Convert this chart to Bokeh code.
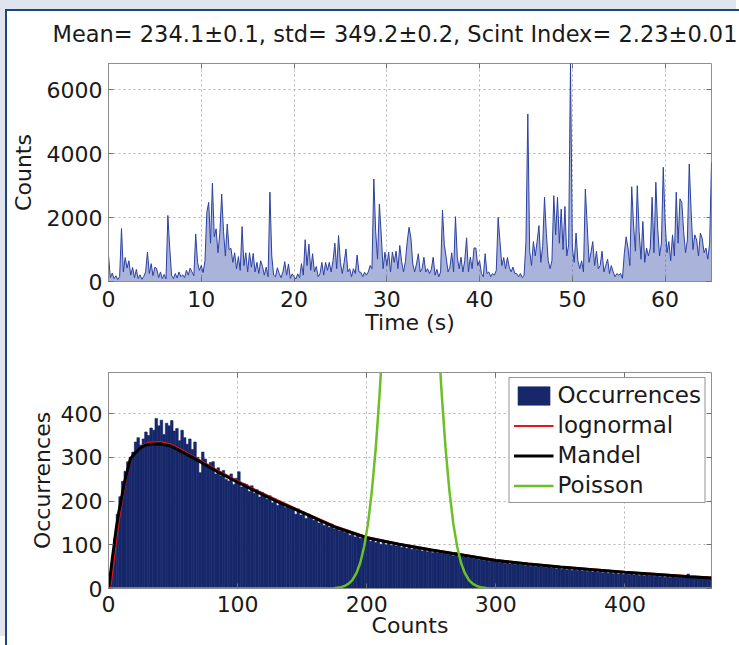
from bokeh.plotting import figure
from bokeh.models import Range1d, FixedTicker, LinearAxis, Legend, LegendItem, ColumnDataSource
from bokeh.layouts import column
from bokeh.embed import file_html
from bokeh.resources import INLINE

# ---------------- data ----------------
title_text = "Mean= 234.1\u00b10.1, std= 349.2\u00b10.2, Scint Index= 2.23\u00b10.01"

sample_step_s = 0.2
counts_series = [
    820, 120, 260, 90, 180, 60, 150, 1660, 300, 750,
    420, 650, 200, 440, 120, 380, 90, 210, 70, 160,
    300, 920, 250, 560, 180, 450, 400, 120, 300, 90,
    220, 80, 2070, 1050, 200, 90, 250, 110, 300, 150,
    210, 120, 350, 200, 420, 300, 180, 1490, 600, 350,
    500, 280, 650, 2170, 2480, 1200, 3080, 1400, 1650, 900,
    1500, 2740, 1560, 800, 1800, 1000, 1040, 600, 900, 400,
    780, 350, 1720, 500, 900, 300, 900, 450, 880, 300,
    600, 250, 650, 470, 200, 450, 150, 2800, 800, 200,
    150, 430, 250, 120, 300, 620, 200, 550, 100, 240,
    150, 80, 240, 120, 560, 200, 1310, 500, 1170, 350,
    870, 300, 470, 150, 250, 600, 200, 600, 350, 600,
    300, 650, 1200, 400, 1440, 600, 250, 600, 1020, 300,
    400, 150, 400, 250, 830, 300, 290, 150, 290, 200,
    300, 500, 400, 3210, 1560, 700, 2430, 1460, 400, 920,
    500, 920, 300, 920, 600, 950, 400, 1130, 620, 300,
    620, 1250, 1700, 1360, 550, 300, 550, 870, 300, 400,
    760, 300, 400, 250, 380, 760, 200, 380, 150, 300,
    2240, 1150, 760, 300, 450, 900, 300, 2030, 760, 400,
    760, 300, 650, 1370, 300, 760, 400, 1050, 1050, 500,
    650, 250, 150, 870, 250, 300, 150, 250, 200, 350,
    2010, 1250, 500, 750, 400, 750, 450, 300, 450, 250,
    250, 150, 250, 120, 200, 1250, 5250, 950, 500, 1250,
    800, 1250, 1750, 600, 1100, 2640, 1500, 650, 400, 650,
    2690, 1460, 2640, 1200, 2270, 1000, 2350, 800, 1150, 6830,
    1050, 600, 1520, 650, 400, 650, 300, 2900, 1770, 600,
    900, 1250, 500, 950, 400, 500, 950, 300, 500, 700,
    250, 500, 300, 150, 250, 200, 250, 100, 870, 1400,
    1050, 500, 2970, 1770, 950, 3000, 1560, 700, 1880, 600,
    1050, 800, 1050, 2640, 900, 3110, 1660, 800, 1200, 3580,
    1880, 900, 1250, 650, 1460, 800, 2800, 1200, 2590, 2480,
    1560, 900, 1300, 3680, 2230, 1000, 1460, 1300, 800, 1520,
    1350, 900, 1050, 700, 1200, 3730,
]
time_s = [round(i * sample_step_s, 1) for i in range(len(counts_series))]

top_x_ticks = [0, 10, 20, 30, 40, 50, 60]
top_y_ticks = [0, 2000, 4000, 6000]

hist_bin_width = 2
hist_centers = list(range(1, 468, 2))
hist_values = [
    12, 60, 115, 170, 210, 245, 268, 290, 300, 312,
    335, 345, 328, 342, 358, 350, 367, 362, 389, 372,
    385, 352, 378, 372, 384, 360, 366, 338, 362, 345,
    330, 342, 318, 335, 300, 265, 312, 296, 280, 288,
    290, 262, 276, 258, 270, 250, 246, 262, 238, 252,
    267, 232, 240, 238, 222, 235, 218, 226, 209, 220,
    215, 204, 212, 196, 205, 190, 199, 194, 185, 190,
    186, 180, 170, 182, 168, 175, 160, 170, 165, 156,
    160, 150, 156, 144, 150, 140, 147, 136, 140, 132,
    135, 128, 132, 122, 126, 118, 124, 115, 119, 112,
    113, 108, 112, 105, 110, 101, 107, 100, 105, 99,
    100, 97, 103, 94, 98, 92, 96, 90, 94, 89,
    92, 86, 90, 84, 88, 82, 87, 81, 85, 80,
    83, 78, 80, 75, 82, 74, 78, 72, 76, 70,
    73, 68, 70, 66, 69, 64, 67, 62, 65, 61,
    63, 59, 62, 58, 60, 56, 59, 55, 57, 54,
    56, 52, 55, 51, 54, 50, 53, 49, 51, 48,
    50, 47, 49, 45, 48, 44, 47, 43, 46, 42,
    44, 41, 43, 40, 42, 39, 41, 38, 40, 37,
    39, 36, 38, 35, 37, 34, 36, 33, 35, 32,
    35, 32, 34, 31, 33, 30, 32, 29, 31, 29,
    30, 28, 29, 27, 28, 26, 28, 25, 27, 25,
    26, 25, 26, 24, 33, 24, 25, 23, 24, 22,
    24, 22, 23, 22,
]

curve_x = [0, 1, 2, 3, 4, 5, 6, 8, 10, 12, 14, 17, 20, 24, 28, 32, 40, 48, 56, 65,
           75, 85, 100, 115, 130, 150, 175, 200, 225, 250, 275, 300, 325, 350, 375,
           400, 425, 450, 467]
mandel_y = [0, 20, 45, 70, 92, 115, 138, 175, 205, 237, 262, 297, 308, 320, 327, 330,
            331, 326, 314, 300, 283, 266, 243, 221, 200, 174, 141, 116, 101, 88, 76,
            64, 56, 49, 43, 37, 32, 27, 24]
lognormal_y = [0, 3, 15, 38, 62, 88, 112, 155, 192, 226, 255, 293, 310, 322, 330, 334,
               335, 330, 318, 303, 286, 269, 246, 224, 203, 176, 143, 118, 102, 89, 77,
               65, 57, 50, 44, 38, 33, 28, 25]

poisson_x = [0, 174, 177, 180, 183, 186, 189, 192, 195, 198, 201, 204, 207, 210, 213,
             216, 219, 222, 225, 228, 231, 234, 237, 240, 243, 246, 249, 252, 255, 258,
             261, 264, 267, 270, 273, 276, 279, 282, 285, 288, 291, 294, 467]
poisson_y = [0, 0, 1.5, 3, 6, 11, 20, 35, 59, 96, 149, 224, 322, 447, 596, 766, 946,
             1125, 1287, 1417, 1501, 1530, 1501, 1417, 1287, 1125, 946, 766, 596, 447,
             322, 224, 149, 96, 59, 35, 20, 11, 6, 3, 1.5, 0, 0]

bottom_ticks = [0, 100, 200, 300, 400]
bottom_y_ticks = [0, 100, 200, 300, 400]

# ---------------- style ----------------
FONT = "DejaVu Sans"
FS = "22px"
TXT = "#1a1a1a"
FRAME = "#8f8f8f"
GRID = "#b4b4b4"


def style(p, xt, yt, top_gap=None):
    p.outline_line_color = FRAME
    p.outline_line_width = 1
    p.background_fill_color = "white"
    p.border_fill_color = "white"
    for ax in (p.xaxis[0], p.yaxis[0]):
        ax.axis_line_color = FRAME
        ax.major_tick_in = 5
        ax.major_tick_out = 0
        ax.minor_tick_line_color = None
        ax.major_tick_line_color = "#707070"
        ax.major_label_text_font = FONT
        ax.major_label_text_font_size = FS
        ax.major_label_text_color = TXT
        ax.axis_label_text_font = FONT
        ax.axis_label_text_font_size = FS
        ax.axis_label_text_font_style = "normal"
        ax.axis_label_text_color = TXT
    p.xaxis[0].ticker = FixedTicker(ticks=xt)
    p.yaxis[0].ticker = FixedTicker(ticks=yt)
    p.xgrid[0].ticker = FixedTicker(ticks=xt)
    p.ygrid[0].ticker = FixedTicker(ticks=yt)
    for g in (p.xgrid[0], p.ygrid[0]):
        g.grid_line_color = GRID
        g.grid_line_dash = "2 3"
        g.grid_line_width = 1
    top = LinearAxis(ticker=FixedTicker(ticks=xt), major_label_text_font_size="0px",
                     major_label_standoff=0, major_tick_in=5, major_tick_out=0,
                     minor_tick_line_color=None, axis_line_color=None,
                     major_tick_line_color="#707070",
                     major_label_overrides={t: "" for t in xt})
    if top_gap is not None:
        # invisible spacer label: keeps the title clear of the frame
        top.axis_label = " "
        top.axis_label_text_font_size = top_gap
        top.axis_label_text_color = None
        top.axis_label_standoff = 0
    right = LinearAxis(ticker=FixedTicker(ticks=yt), major_label_text_font_size="0px",
                       major_label_standoff=0, major_tick_in=5, major_tick_out=0,
                       minor_tick_line_color=None, axis_line_color=None,
                       major_tick_line_color="#707070",
                       major_label_overrides={t: "" for t in yt})
    p.add_layout(top, "above")
    p.add_layout(right, "right")


# ---------------- top: time series ----------------
p1 = figure(frame_width=603, frame_height=218, output_backend="svg", toolbar_location=None,
            x_range=Range1d(0, 65), y_range=Range1d(0, 6830),
            min_border_left=99, min_border_right=30, min_border_top=52, min_border_bottom=61)
p1.title.text = title_text
p1.title.text_font = FONT
p1.title.text_font_size = "22.5px"
p1.title.text_font_style = "normal"
p1.title.text_color = TXT
p1.title.align = "left"
p1.title.offset = -56
p1.title.standoff = 4
style(p1, top_x_ticks, top_y_ticks, top_gap="11px")
xb1, yl1 = p1.below[0], p1.left[0]
xb1.axis_label = "Time (s)"
yl1.axis_label = "Counts"
xb1.major_label_standoff = 9
xb1.axis_label_standoff = 0
yl1.major_label_standoff = 6
yl1.axis_label_standoff = 8
p1.varea(x=time_s, y1=0, y2=counts_series, fill_color="#2b41a2", fill_alpha=0.4)
p1.line(time_s, counts_series, line_color="#2b41a2", line_width=1)

# ---------------- bottom: histogram ----------------
p2 = figure(frame_width=603, frame_height=216, output_backend="svg", toolbar_location=None,
            x_range=Range1d(0, 467), y_range=Range1d(0, 494),
            min_border_left=99, min_border_right=30, min_border_top=30, min_border_bottom=57)
style(p2, bottom_ticks, bottom_y_ticks)
xb2, yl2 = p2.below[0], p2.left[0]
xb2.axis_label = "Counts"
yl2.axis_label = "Occurrences"
xb2.major_label_standoff = 7
xb2.axis_label_standoff = -2
yl2.major_label_standoff = 6
yl2.axis_label_standoff = 3

src = ColumnDataSource(dict(x=hist_centers, top=hist_values))
r_hist = p2.vbar(x="x", top="top", width=hist_bin_width, bottom=0, source=src,
                 fill_color="#16276a", line_color="#16276a", line_width=0.6)
r_logn = p2.line(curve_x, lognormal_y, line_color="#e8141c", line_width=2)
r_mand = p2.line(curve_x, mandel_y, line_color="black", line_width=3)
r_pois = p2.line(poisson_x, poisson_y, line_color="#6cbf26", line_width=2.5)

legend = Legend(items=[
    LegendItem(label="Occurrences", renderers=[r_hist]),
    LegendItem(label="lognormal", renderers=[r_logn]),
    LegendItem(label="Mandel", renderers=[r_mand]),
    LegendItem(label="Poisson", renderers=[r_pois]),
], location="top_right")
legend.label_text_font = FONT
legend.label_text_font_size = "23px"
legend.label_text_color = TXT
legend.border_line_color = "#2a2a2a"
legend.border_line_width = 1
legend.background_fill_color = "white"
legend.background_fill_alpha = 1
legend.glyph_width = 40
legend.glyph_height = 23
legend.label_height = 23
legend.spacing = 4
legend.padding = 4
legend.margin = 5
legend.label_standoff = 4
p2.add_layout(legend)

layout = column(p1, p2, styles={"border-top": "2px solid #1b4677",
                                "border-left": "2px solid #1b4677",
                                "margin-left": "5px",
                                "margin-top": "9px",
                                "box-shadow": "-5px -9px 0 0 #dfe4ee"})

open("out.html", "w").write(file_html(layout, INLINE))
